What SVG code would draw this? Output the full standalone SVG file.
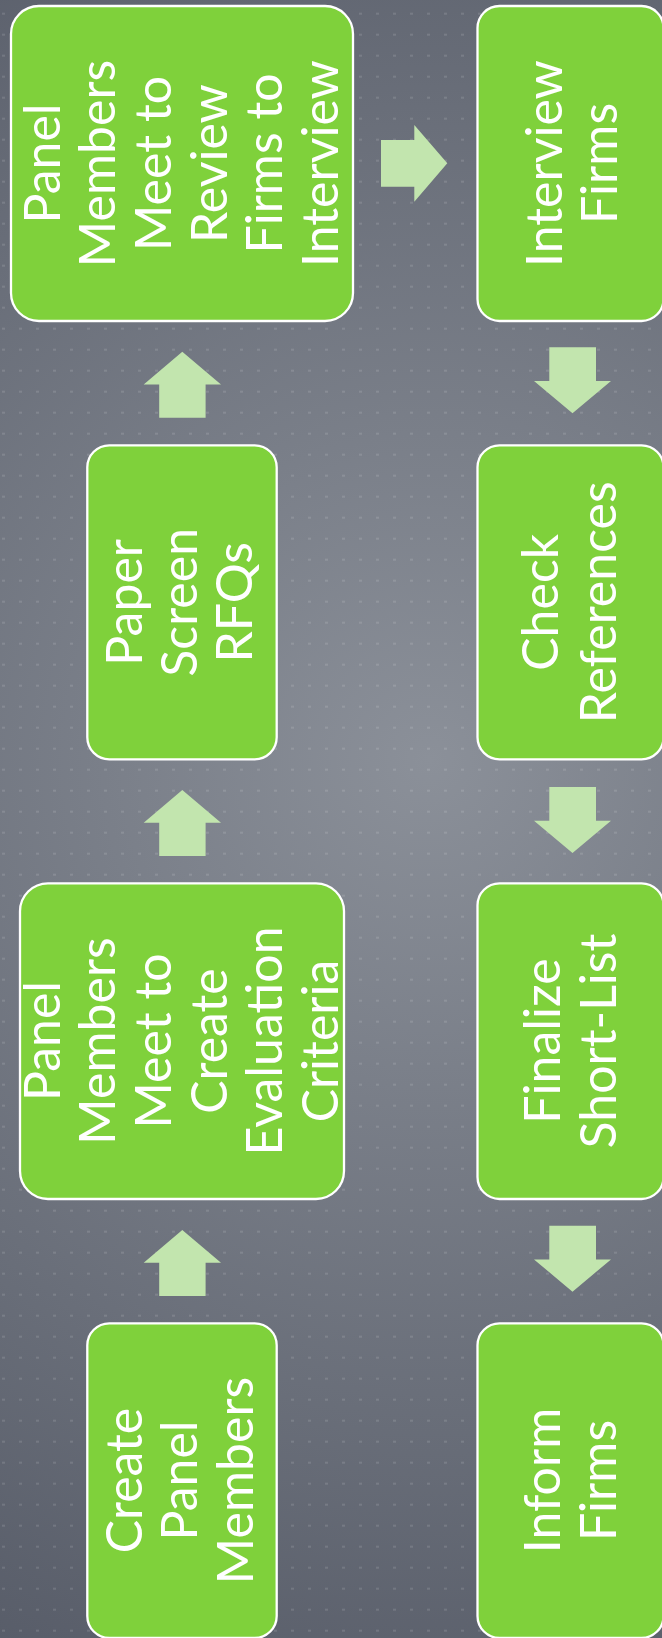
<svg xmlns="http://www.w3.org/2000/svg" width="662" height="1638" viewBox="0 0 662 1638">
<style>
.box{fill:#7fd13b;stroke:#ffffff;stroke-width:2.3}
.arrow{fill:#c2e5ae}
.lbl{font-family:Lato,"Liberation Sans",sans-serif;font-size:50px;fill:#ffffff;text-anchor:middle}
</style>
<defs>
<radialGradient id="bg" cx="430" cy="760" r="980" gradientUnits="userSpaceOnUse">
<stop offset="0" stop-color="#8b9099"/>
<stop offset="1" stop-color="#585d69"/>
</radialGradient>
<pattern id="dots" width="17" height="21" patternUnits="userSpaceOnUse">
<rect x="2" y="12.7" width="3" height="2" fill="#ffffff" fill-opacity="0.12"/>
</pattern>
<polygon id="up" points="0,0 38.7,32.7 23.3,32.7 23.3,66 -23.1,66 -23.1,32.7 -38.6,32.7"/>
<polygon id="down" points="-23.2,0 23.5,0 23.5,33.7 38.5,33.7 0,66 -38.5,33.7 -23.2,33.7"/>
</defs>
<rect width="662" height="1638" fill="url(#bg)"/>
<rect width="662" height="1638" fill="url(#dots)"/>

<g id="connectors">
<use href="#up" class="arrow" x="182.3" y="1230"/>
<use href="#up" class="arrow" x="182.3" y="790"/>
<use href="#up" class="arrow" x="182.3" y="351.7"/>
<polygon class="arrow" points="381,140 414.3,140 414.3,125 447.3,163.3 414.3,201.7 414.3,186.7 381,186.7"/>
<use href="#down" class="arrow" x="572.5" y="347.3"/>
<use href="#down" class="arrow" x="572.5" y="787"/>
<use href="#down" class="arrow" x="572.5" y="1225.7"/>
</g>

<g id="create-panel">
<rect class="box" x="87.3" y="1323.3" width="189.4" height="314.7" rx="22"/>
<text class="lbl" transform="translate(0,1480.5) rotate(-90)"><tspan x="0" y="141.7">Create</tspan><tspan x="0" y="197.2">Panel</tspan><tspan x="0" y="252.7">Members</tspan></text>
</g>

<g id="meet-create-criteria">
<rect class="box" x="20" y="883.3" width="324" height="315.7" rx="28"/>
<text class="lbl" transform="translate(0,1041) rotate(-90)"><tspan x="0" y="59.5">Panel</tspan><tspan x="0" y="115.1">Members</tspan><tspan x="0" y="170.7">Meet to</tspan><tspan x="0" y="226.5">Create</tspan><tspan x="0" y="282.3">Evaluation</tspan><tspan x="0" y="337.7">Criteria</tspan></text>
</g>

<g id="paper-screen">
<rect class="box" x="87.3" y="445.3" width="189.4" height="314" rx="22"/>
<text class="lbl" transform="translate(0,602.3) rotate(-90)"><tspan x="0" y="141.7">Paper</tspan><tspan x="0" y="196.7">Screen</tspan><tspan x="0" y="251.7">RFQs</tspan></text>
</g>

<g id="meet-review-firms">
<rect class="box" x="11" y="6" width="342" height="315" rx="28"/>
<text class="lbl" transform="translate(0,163.5) rotate(-90)"><tspan x="0" y="59.5">Panel</tspan><tspan x="0" y="115.1">Members</tspan><tspan x="0" y="170.7">Meet to</tspan><tspan x="0" y="226.5">Review</tspan><tspan x="0" y="282.3">Firms to</tspan><tspan x="0" y="337.7">Interview</tspan></text>
</g>

<g id="interview-firms">
<rect class="box" x="477.5" y="6" width="186" height="315" rx="22"/>
<text class="lbl" transform="translate(0,163.5) rotate(-90)"><tspan x="0" y="561.7">Interview</tspan><tspan x="0" y="616.7">Firms</tspan></text>
</g>

<g id="check-references">
<rect class="box" x="477.5" y="445.3" width="186" height="314" rx="22"/>
<text class="lbl" transform="translate(0,602.3) rotate(-90)"><tspan x="0" y="558.3">Check</tspan><tspan x="0" y="616">References</tspan></text>
</g>

<g id="finalize-short-list">
<rect class="box" x="477.5" y="883.3" width="186" height="315.7" rx="22"/>
<text class="lbl" transform="translate(0,1041) rotate(-90)"><tspan x="0" y="560">Finalize</tspan><tspan x="0" y="616">Short-List</tspan></text>
</g>

<g id="inform-firms">
<rect class="box" x="477.5" y="1323.3" width="186" height="314.7" rx="22"/>
<text class="lbl" transform="translate(0,1480.5) rotate(-90)"><tspan x="0" y="560">Inform</tspan><tspan x="0" y="616">Firms</tspan></text>
</g>
</svg>
